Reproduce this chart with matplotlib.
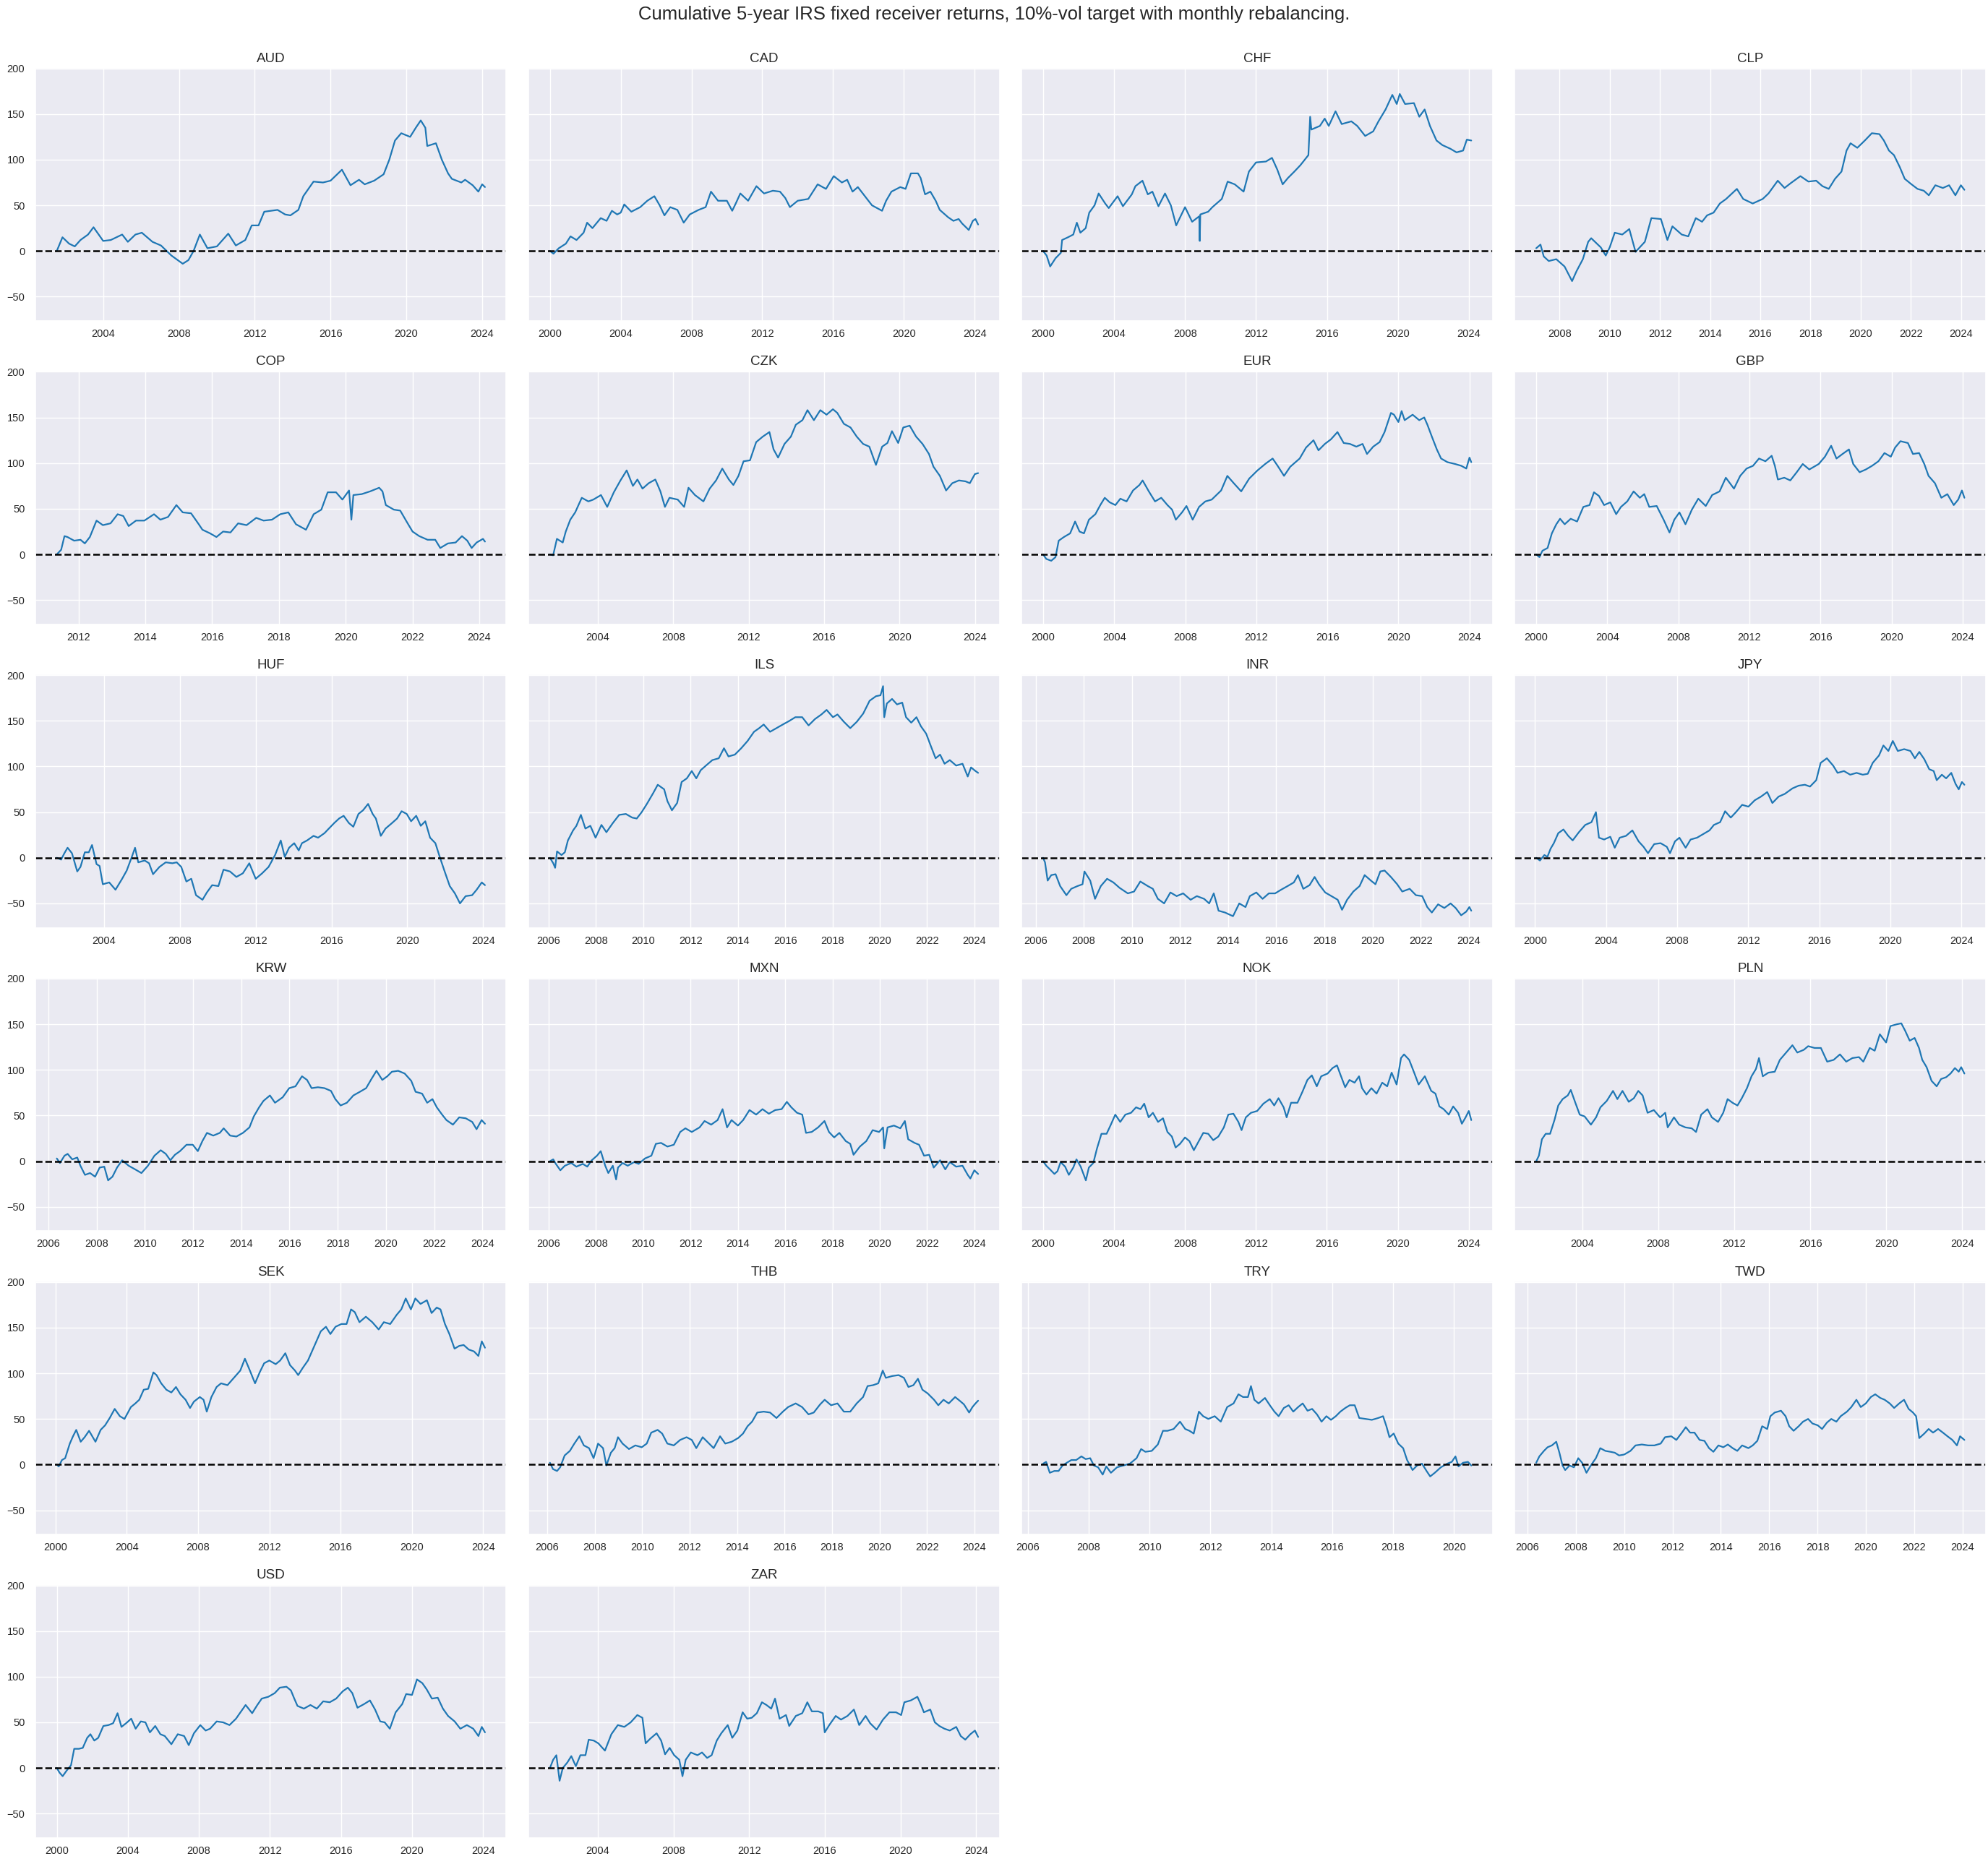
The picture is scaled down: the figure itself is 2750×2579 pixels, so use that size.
from datetime import datetime, timedelta

import matplotlib.pyplot as plt
import seaborn as sns

# cumulative returns, (decimal year, value) per currency
aud_years = [2001.55, 2001.85, 2002.2, 2002.5, 2002.8, 2003.2, 2003.49, 2004.0, 2004.4, 2005.0, 2005.3, 2005.7,
             2006.04, 2006.6, 2007.05, 2007.6, 2008.2, 2008.5, 2008.77, 2009.1, 2009.5, 2010.0, 2010.6, 2011.0,
             2011.5, 2011.84, 2012.2, 2012.5, 2013.2, 2013.6, 2013.88, 2014.3, 2014.56, 2015.1, 2015.6, 2016.0,
             2016.6, 2017.05, 2017.5, 2017.8, 2018.3, 2018.8, 2019.1, 2019.4, 2019.73, 2020.2, 2020.5, 2020.76,
             2021.0, 2021.1, 2021.56, 2021.87, 2022.2, 2022.4, 2022.9, 2023.1, 2023.5, 2023.8, 2024.0, 2024.15]
aud_vals = [0, 15, 8, 5, 12, 18, 26, 11, 12, 18, 10, 18, 20, 10, 6, -5, -14, -10, 0, 18, 3, 5, 19, 6, 12, 28, 28,
            43, 45, 40, 39, 45, 60, 76, 75, 77, 89, 72, 78, 73, 77, 84, 100, 121, 129, 125, 135, 143, 135, 115, 118,
            100, 85, 79, 75, 78, 72, 65, 73, 70]

cad_years = [2000.0, 2000.2, 2000.5, 2000.9, 2001.16, 2001.5, 2001.9, 2002.1, 2002.4, 2002.87, 2003.2, 2003.5,
             2003.8, 2004.0, 2004.2, 2004.6, 2005.1, 2005.5, 2005.9, 2006.2, 2006.47, 2006.8, 2007.2, 2007.56,
             2007.9, 2008.4, 2008.8, 2009.1, 2009.5, 2010.0, 2010.3, 2010.5, 2010.76, 2011.2, 2011.67, 2012.1,
             2012.6, 2013.0, 2013.3, 2013.56, 2014.0, 2014.6, 2015.13, 2015.6, 2016.04, 2016.5, 2016.8, 2017.1,
             2017.4, 2017.8, 2018.2, 2018.77, 2019.0, 2019.3, 2019.8, 2020.1, 2020.4, 2020.8, 2020.95, 2021.2,
             2021.5, 2021.8, 2022.03, 2022.5, 2022.8, 2023.1, 2023.3, 2023.67, 2023.9, 2024.05, 2024.2]
cad_vals = [0, -3, 3, 8, 16, 12, 20, 31, 25, 36, 33, 44, 40, 42, 51, 43, 48, 55, 60, 50, 39, 48, 45, 31, 40, 45,
            48, 65, 55, 55, 44, 52, 63, 55, 71, 63, 66, 65, 58, 48, 55, 57, 73, 68, 82, 75, 78, 65, 70, 60, 50, 44,
            55, 65, 70, 68, 85, 85, 80, 62, 65, 55, 45, 37, 33, 35, 30, 23, 33, 35, 29]

chf_years = [2000.0, 2000.2, 2000.4, 2000.7, 2001.0, 2001.07, 2001.4, 2001.7, 2001.9, 2002.1, 2002.4, 2002.6,
             2002.9, 2003.13, 2003.5, 2003.7, 2004.2, 2004.5, 2005.0, 2005.2, 2005.6, 2005.9, 2006.16, 2006.5,
             2006.87, 2007.2, 2007.5, 2008.0, 2008.4, 2008.8, 2008.83, 2008.86, 2009.3, 2009.54, 2010.07, 2010.4,
             2010.8, 2011.3, 2011.6, 2012.0, 2012.56, 2012.9, 2013.2, 2013.5, 2013.8, 2014.16, 2014.5, 2014.95,
             2015.05, 2015.12, 2015.6, 2015.87, 2016.1, 2016.48, 2016.83, 2017.37, 2017.7, 2018.15, 2018.6, 2018.9,
             2019.3, 2019.68, 2019.93, 2020.1, 2020.4, 2020.9, 2021.2, 2021.5, 2021.8, 2022.17, 2022.5, 2022.95,
             2023.3, 2023.67, 2023.88, 2024.13]
chf_vals = [0, -5, -17, -8, -2, 12, 15, 18, 31, 20, 25, 42, 50, 63, 52, 47, 60, 49, 62, 71, 77, 62, 65, 49, 63,
            50, 28, 48, 32, 38, 11, 40, 43, 48, 57, 76, 73, 65, 87, 97, 98, 102, 89, 73, 80, 87, 94, 105, 147, 133,
            137, 145, 137, 153, 139, 142, 137, 126, 131, 142, 155, 171, 161, 172, 161, 162, 147, 155, 137, 121, 116,
            112, 108, 110, 122, 121]

clp_years = [2007.07, 2007.24, 2007.37, 2007.57, 2007.87, 2008.2, 2008.5, 2008.68, 2008.93, 2009.14, 2009.26,
             2009.64, 2009.84, 2010.0, 2010.2, 2010.5, 2010.78, 2011.03, 2011.4, 2011.66, 2012.04, 2012.3, 2012.5,
             2012.87, 2013.13, 2013.43, 2013.68, 2013.88, 2014.14, 2014.39, 2014.64, 2015.07, 2015.32, 2015.7,
             2016.1, 2016.33, 2016.7, 2016.97, 2017.2, 2017.6, 2017.92, 2018.23, 2018.48, 2018.73, 2018.98,
             2019.24, 2019.44, 2019.6, 2019.87, 2020.17, 2020.45, 2020.75, 2020.93, 2021.13, 2021.33, 2021.56,
             2021.76, 2022.03, 2022.27, 2022.52, 2022.72, 2022.98, 2023.28, 2023.53, 2023.78, 2024.0, 2024.14]
clp_vals = [3, 7, -6, -11, -9, -17, -33, -22, -9, 10, 14, 4, -5, 4, 20, 18, 24, -1, 10, 36, 35, 12, 27, 18, 16,
            36, 32, 39, 42, 52, 57, 68, 57, 52, 57, 63, 77, 69, 74, 82, 76, 77, 71, 68, 79, 87, 110, 118, 113, 121,
            129, 128, 121, 110, 105, 92, 79, 73, 68, 66, 61, 72, 69, 72, 61, 72, 67]

cop_years = [2011.35, 2011.48, 2011.58, 2011.67, 2011.87, 2012.06, 2012.19, 2012.34, 2012.54, 2012.73, 2012.96,
             2013.17, 2013.34, 2013.5, 2013.72, 2013.97, 2014.26, 2014.45, 2014.68, 2014.93, 2015.12, 2015.37,
             2015.6, 2015.71, 2015.94, 2016.13, 2016.33, 2016.55, 2016.78, 2017.03, 2017.32, 2017.54, 2017.79,
             2018.04, 2018.28, 2018.51, 2018.81, 2019.04, 2019.27, 2019.46, 2019.71, 2019.9, 2020.1, 2020.17,
             2020.23, 2020.48, 2020.73, 2021.0, 2021.1, 2021.2, 2021.44, 2021.63, 2021.82, 2022.0, 2022.2, 2022.45,
             2022.68, 2022.83, 2023.06, 2023.29, 2023.48, 2023.64, 2023.77, 2023.92, 2024.11, 2024.17]
cop_vals = [0, 5, 20, 19, 15, 16, 12, 19, 37, 32, 34, 44, 42, 31, 37, 37, 44, 38, 41, 54, 46, 45, 33, 27, 23, 19,
            25, 24, 34, 32, 40, 37, 38, 44, 46, 33, 27, 44, 49, 68, 68, 60, 70, 38, 65, 66, 69, 73, 69, 54, 49, 48,
            36, 25, 20, 16, 16, 7, 12, 13, 20, 15, 7, 13, 17, 14]

czk_years = [2001.46, 2001.63, 2001.83, 2002.14, 2002.3, 2002.54, 2002.8, 2003.15, 2003.5, 2003.76, 2004.17,
             2004.5, 2004.85, 2005.2, 2005.53, 2005.86, 2006.1, 2006.37, 2006.7, 2007.05, 2007.32, 2007.56,
             2007.8, 2008.24, 2008.58, 2008.81, 2009.15, 2009.6, 2009.93, 2010.27, 2010.6, 2010.95, 2011.19,
             2011.46, 2011.73, 2012.07, 2012.4, 2012.75, 2013.1, 2013.32, 2013.56, 2013.9, 2014.24, 2014.5,
             2014.85, 2015.12, 2015.46, 2015.8, 2016.13, 2016.47, 2016.7, 2017.05, 2017.4, 2017.73, 2018.07,
             2018.4, 2018.75, 2019.08, 2019.36, 2019.6, 2019.93, 2020.2, 2020.54, 2020.88, 2021.22, 2021.56,
             2021.8, 2022.14, 2022.47, 2022.8, 2023.15, 2023.5, 2023.73, 2024.0, 2024.17]
czk_vals = [0, -1, 17, 13, 25, 38, 46, 62, 58, 60, 65, 52, 68, 81, 92, 75, 82, 72, 78, 82, 69, 52, 62, 60, 52, 73,
            65, 58, 72, 81, 94, 82, 76, 86, 102, 103, 123, 129, 134, 115, 106, 121, 129, 142, 147, 158, 147, 158,
            153, 159, 155, 143, 139, 129, 121, 118, 98, 118, 122, 135, 122, 139, 141, 129, 121, 110, 96, 86, 70,
            78, 81, 80, 78, 88, 89]

eur_years = [2000.0, 2000.18, 2000.46, 2000.7, 2000.88, 2001.17, 2001.52, 2001.8, 2002.05, 2002.3, 2002.58,
             2002.94, 2003.22, 2003.47, 2003.75, 2004.07, 2004.35, 2004.7, 2005.06, 2005.42, 2005.6, 2005.95,
             2006.3, 2006.65, 2007.0, 2007.26, 2007.47, 2007.82, 2008.07, 2008.42, 2008.78, 2009.13, 2009.49,
             2010.02, 2010.37, 2010.73, 2011.15, 2011.6, 2012.07, 2012.5, 2012.92, 2013.2, 2013.56, 2013.91,
             2014.44, 2014.8, 2015.22, 2015.5, 2015.86, 2016.2, 2016.57, 2016.92, 2017.27, 2017.63, 2017.98,
             2018.23, 2018.58, 2018.94, 2019.22, 2019.58, 2019.75, 2020.0, 2020.18, 2020.35, 2020.8, 2021.17,
             2021.45, 2021.63, 2021.88, 2022.16, 2022.4, 2022.76, 2023.19, 2023.54, 2023.82, 2024.0, 2024.1]
eur_vals = [0, -5, -7, -3, 15, 19, 23, 36, 25, 23, 38, 44, 54, 62, 57, 54, 61, 58, 70, 76, 81, 69, 58, 62, 54, 49,
            38, 46, 53, 38, 52, 58, 60, 70, 86, 78, 69, 83, 92, 99, 105, 97, 86, 96, 105, 117, 125, 114, 121, 126,
            134, 122, 121, 118, 121, 110, 118, 123, 134, 155, 153, 145, 157, 147, 153, 147, 150, 142, 129, 115, 105,
            101, 99, 97, 94, 106, 101]

gbp_years = [2000.0, 2000.18, 2000.35, 2000.64, 2000.88, 2001.13, 2001.34, 2001.6, 2001.94, 2002.3, 2002.65,
             2003.0, 2003.25, 2003.53, 2003.82, 2004.17, 2004.5, 2004.77, 2005.12, 2005.48, 2005.83, 2006.08,
             2006.36, 2006.78, 2007.17, 2007.5, 2007.77, 2008.06, 2008.4, 2008.76, 2009.12, 2009.54, 2009.9,
             2010.32, 2010.67, 2011.13, 2011.48, 2011.84, 2012.2, 2012.54, 2012.9, 2013.25, 2013.43, 2013.6,
             2013.96, 2014.3, 2014.66, 2015.0, 2015.37, 2015.9, 2016.25, 2016.6, 2016.9, 2017.24, 2017.6, 2017.84,
             2018.2, 2018.55, 2018.9, 2019.26, 2019.6, 2019.96, 2020.2, 2020.5, 2020.92, 2021.2, 2021.55, 2021.84,
             2022.08, 2022.44, 2022.8, 2023.14, 2023.5, 2023.75, 2023.96, 2024.1]
gbp_vals = [0, -3, 4, 7, 23, 33, 39, 33, 39, 36, 52, 54, 68, 64, 54, 57, 44, 52, 58, 69, 62, 66, 52, 53, 38, 24,
            38, 46, 33, 49, 61, 53, 65, 69, 84, 72, 86, 94, 97, 105, 102, 108, 97, 82, 84, 81, 90, 99, 93, 99, 107,
            119, 105, 110, 115, 99, 90, 93, 97, 102, 111, 107, 117, 124, 122, 110, 111, 99, 86, 78, 62, 66, 54, 60,
            70, 62]

huf_years = [2001.5, 2001.73, 2001.9, 2002.07, 2002.3, 2002.58, 2002.75, 2002.98, 2003.19, 2003.36, 2003.6,
             2003.76, 2003.93, 2004.27, 2004.6, 2004.95, 2005.19, 2005.46, 2005.63, 2005.8, 2006.14, 2006.37,
             2006.58, 2006.92, 2007.25, 2007.6, 2007.83, 2008.07, 2008.34, 2008.6, 2008.85, 2009.19, 2009.42,
             2009.7, 2010.03, 2010.3, 2010.64, 2010.98, 2011.32, 2011.66, 2012.0, 2012.34, 2012.68, 2013.02,
             2013.32, 2013.53, 2013.76, 2014.03, 2014.27, 2014.44, 2014.71, 2015.05, 2015.29, 2015.63, 2015.86,
             2016.14, 2016.4, 2016.64, 2016.92, 2017.15, 2017.42, 2017.66, 2017.93, 2018.17, 2018.34, 2018.6,
             2018.85, 2019.19, 2019.46, 2019.7, 2019.97, 2020.2, 2020.47, 2020.71, 2020.95, 2021.2, 2021.48,
             2021.71, 2021.97, 2022.24, 2022.51, 2022.78, 2023.08, 2023.42, 2023.66, 2023.93, 2024.1]
huf_vals = [0, -2, 5, 11, 5, -15, -10, 6, 6, 14, -7, -9, -29, -27, -35, -23, -14, 1, 11, -5, -3, -6, -18, -10, -5,
            -6, -5, -10, -26, -23, -41, -46, -38, -30, -31, -13, -15, -21, -17, -6, -23, -17, -10, 3, 19, 1, 11,
            16, 8, 16, 19, 24, 22, 27, 32, 38, 43, 46, 38, 34, 48, 52, 59, 48, 43, 24, 32, 38, 43, 51, 48, 40, 46,
            35, 40, 22, 16, 1, -15, -31, -39, -50, -42, -41, -35, -27, -30]

ils_years = [2006.05, 2006.19, 2006.27, 2006.35, 2006.54, 2006.68, 2006.81, 2007.03, 2007.17, 2007.36, 2007.55,
             2007.76, 2007.98, 2008.23, 2008.44, 2008.71, 2008.98, 2009.26, 2009.53, 2009.72, 2009.93, 2010.15,
             2010.42, 2010.61, 2010.88, 2011.02, 2011.21, 2011.43, 2011.62, 2011.84, 2012.05, 2012.24, 2012.43,
             2012.65, 2012.92, 2013.19, 2013.41, 2013.6, 2013.87, 2014.14, 2014.41, 2014.68, 2014.9, 2015.09,
             2015.36, 2015.63, 2015.9, 2016.18, 2016.43, 2016.72, 2016.99, 2017.26, 2017.53, 2017.75, 2018.02,
             2018.21, 2018.48, 2018.75, 2019.03, 2019.3, 2019.57, 2019.84, 2020.03, 2020.14, 2020.19, 2020.3,
             2020.52, 2020.73, 2020.95, 2021.11, 2021.33, 2021.55, 2021.74, 2021.96, 2022.15, 2022.36, 2022.55,
             2022.74, 2022.96, 2023.23, 2023.5, 2023.72, 2023.86, 2024.05, 2024.16]
ils_vals = [0, -6, -11, 7, 3, 6, 19, 30, 35, 47, 32, 35, 22, 36, 28, 38, 47, 48, 44, 43, 50, 59, 71, 80, 75, 62,
            52, 60, 83, 87, 95, 87, 96, 101, 107, 109, 120, 111, 113, 120, 128, 138, 142, 146, 138, 142, 146, 150,
            154, 154, 145, 152, 157, 162, 154, 157, 149, 142, 149, 158, 172, 177, 178, 188, 154, 169, 174, 168, 170,
            154, 148, 154, 144, 136, 123, 109, 113, 103, 107, 101, 103, 89, 99, 95, 93]

inr_years = [2006.31, 2006.39, 2006.5, 2006.65, 2006.83, 2007.02, 2007.28, 2007.48, 2007.74, 2007.95, 2008.03,
             2008.27, 2008.47, 2008.71, 2008.97, 2009.23, 2009.49, 2009.83, 2010.09, 2010.35, 2010.66, 2010.87,
             2011.08, 2011.34, 2011.6, 2011.86, 2012.13, 2012.44, 2012.7, 2013.0, 2013.21, 2013.4, 2013.6, 2013.87,
             2014.2, 2014.46, 2014.72, 2014.9, 2015.17, 2015.43, 2015.69, 2015.95, 2016.2, 2016.47, 2016.73, 2016.9,
             2017.12, 2017.38, 2017.59, 2017.77, 2018.03, 2018.29, 2018.55, 2018.73, 2018.94, 2019.2, 2019.46,
             2019.67, 2019.93, 2020.12, 2020.32, 2020.5, 2020.76, 2021.02, 2021.23, 2021.54, 2021.8, 2022.06,
             2022.27, 2022.46, 2022.72, 2022.98, 2023.24, 2023.45, 2023.68, 2023.89, 2024.02, 2024.1]
inr_vals = [0, -5, -25, -19, -18, -31, -41, -34, -31, -29, -15, -25, -45, -31, -23, -27, -33, -39, -37, -26, -31,
            -34, -45, -50, -38, -42, -39, -46, -42, -45, -50, -39, -58, -60, -64, -50, -54, -42, -38, -45, -39, -39,
            -35, -31, -27, -19, -34, -30, -21, -29, -38, -42, -46, -57, -46, -37, -31, -19, -25, -29, -15, -14, -21,
            -29, -37, -34, -41, -42, -54, -60, -51, -55, -50, -55, -63, -59, -54, -58]

jpy_years = [2000.07, 2000.28, 2000.53, 2000.7, 2000.88, 2001.06, 2001.31, 2001.6, 2001.87, 2002.12, 2002.47,
             2002.83, 2003.18, 2003.43, 2003.6, 2003.89, 2004.24, 2004.49, 2004.77, 2005.12, 2005.48, 2005.83,
             2006.11, 2006.36, 2006.71, 2007.07, 2007.42, 2007.6, 2007.88, 2008.13, 2008.48, 2008.76, 2009.12,
             2009.47, 2009.82, 2010.07, 2010.42, 2010.7, 2011.02, 2011.31, 2011.66, 2012.01, 2012.37, 2012.72,
             2013.07, 2013.36, 2013.71, 2014.06, 2014.49, 2014.84, 2015.19, 2015.48, 2015.83, 2016.08, 2016.43,
             2016.78, 2017.03, 2017.39, 2017.74, 2018.1, 2018.45, 2018.73, 2019.01, 2019.36, 2019.61, 2019.89,
             2020.14, 2020.42, 2020.78, 2021.13, 2021.38, 2021.63, 2021.91, 2022.19, 2022.44, 2022.61, 2022.9,
             2023.14, 2023.43, 2023.67, 2023.85, 2024.03, 2024.17]
jpy_vals = [0, -3, 3, 1, 10, 16, 27, 31, 24, 19, 28, 36, 39, 50, 22, 20, 23, 11, 22, 24, 30, 18, 12, 5, 15, 16, 12,
            5, 18, 22, 11, 20, 22, 26, 30, 36, 39, 51, 44, 50, 58, 56, 63, 67, 72, 60, 67, 70, 76, 79, 80, 78, 85,
            104, 109, 101, 93, 95, 91, 93, 91, 92, 104, 112, 123, 117, 128, 117, 119, 117, 109, 116, 108, 97, 95,
            85, 91, 87, 93, 81, 75, 83, 80]

krw_years = [2006.35, 2006.48, 2006.67, 2006.8, 2006.99, 2007.2, 2007.33, 2007.52, 2007.73, 2007.94, 2008.13,
             2008.32, 2008.48, 2008.66, 2008.85, 2009.06, 2009.33, 2009.6, 2009.86, 2010.13, 2010.4, 2010.66,
             2010.87, 2011.06, 2011.25, 2011.46, 2011.73, 2011.99, 2012.2, 2012.39, 2012.58, 2012.84, 2013.11,
             2013.27, 2013.54, 2013.8, 2014.07, 2014.34, 2014.52, 2014.74, 2014.92, 2015.19, 2015.4, 2015.72,
             2015.99, 2016.25, 2016.52, 2016.73, 2016.92, 2017.18, 2017.45, 2017.72, 2017.9, 2018.12, 2018.38,
             2018.65, 2018.92, 2019.18, 2019.4, 2019.61, 2019.85, 2020.06, 2020.25, 2020.51, 2020.78, 2021.05,
             2021.23, 2021.5, 2021.71, 2021.93, 2022.11, 2022.33, 2022.51, 2022.78, 2023.04, 2023.31, 2023.58,
             2023.76, 2023.97, 2024.11]
krw_vals = [3, -2, 6, 8, 2, 4, -5, -15, -13, -17, -7, -6, -21, -17, -7, 1, -5, -9, -13, -5, 6, 12, 8, 1, 7, 11,
            18, 18, 11, 22, 31, 28, 31, 36, 28, 27, 31, 37, 49, 59, 66, 72, 64, 70, 80, 82, 93, 89, 80, 81, 80, 77,
            68, 61, 64, 72, 76, 80, 90, 99, 89, 93, 98, 99, 96, 88, 76, 74, 64, 68, 59, 51, 45, 40, 48, 47, 43, 35,
            45, 41]

mxn_years = [2006.05, 2006.19, 2006.3, 2006.49, 2006.68, 2006.95, 2007.17, 2007.44, 2007.63, 2007.82, 2008.04,
             2008.2, 2008.39, 2008.52, 2008.71, 2008.85, 2008.93, 2009.12, 2009.34, 2009.61, 2009.8, 2010.07,
             2010.34, 2010.53, 2010.75, 2011.02, 2011.29, 2011.56, 2011.78, 2012.05, 2012.38, 2012.59, 2012.87,
             2013.14, 2013.35, 2013.54, 2013.73, 2014.0, 2014.22, 2014.49, 2014.77, 2015.04, 2015.31, 2015.58,
             2015.85, 2016.07, 2016.26, 2016.5, 2016.72, 2016.88, 2017.12, 2017.39, 2017.66, 2017.85, 2018.07,
             2018.29, 2018.56, 2018.75, 2018.89, 2019.16, 2019.43, 2019.7, 2019.97, 2020.14, 2020.19, 2020.33,
             2020.6, 2020.87, 2021.06, 2021.2, 2021.47, 2021.66, 2021.87, 2022.09, 2022.28, 2022.55, 2022.77,
             2022.96, 2023.23, 2023.5, 2023.72, 2023.83, 2024.0, 2024.16]
mxn_vals = [0, 2, -3, -10, -5, -2, -6, -3, -6, 1, 6, 11, -5, -13, -5, -20, -7, -2, -5, -1, -3, 3, 6, 19, 20, 16,
            18, 32, 36, 32, 37, 44, 40, 45, 57, 37, 45, 39, 45, 56, 51, 57, 52, 56, 57, 65, 59, 53, 51, 31, 32, 37,
            44, 32, 26, 31, 22, 19, 7, 16, 22, 34, 32, 37, 14, 37, 39, 36, 44, 24, 20, 18, 6, 7, -7, 1, -9, -1, -6,
            -5, -15, -19, -10, -14]

nok_years = [2000.0, 2000.18, 2000.39, 2000.64, 2000.81, 2000.99, 2001.24, 2001.45, 2001.7, 2001.88, 2002.12,
             2002.41, 2002.58, 2002.83, 2003.04, 2003.29, 2003.58, 2003.82, 2004.07, 2004.35, 2004.64, 2004.96,
             2005.24, 2005.49, 2005.7, 2005.95, 2006.19, 2006.48, 2006.76, 2007.01, 2007.26, 2007.47, 2007.72,
             2008.0, 2008.25, 2008.5, 2008.78, 2009.03, 2009.31, 2009.59, 2009.88, 2010.19, 2010.44, 2010.73,
             2011.01, 2011.19, 2011.43, 2011.72, 2012.07, 2012.42, 2012.78, 2013.03, 2013.27, 2013.56, 2013.73,
             2013.98, 2014.34, 2014.62, 2014.9, 2015.15, 2015.43, 2015.68, 2016.04, 2016.32, 2016.57, 2016.74,
             2017.03, 2017.27, 2017.56, 2017.81, 2017.98, 2018.23, 2018.51, 2018.8, 2019.12, 2019.4, 2019.65,
             2019.93, 2020.18, 2020.35, 2020.64, 2020.92, 2021.17, 2021.52, 2021.88, 2022.12, 2022.34, 2022.58,
             2022.87, 2023.12, 2023.4, 2023.61, 2023.82, 2024.0, 2024.14]
nok_vals = [0, -5, -9, -14, -11, -1, -6, -15, -7, 2, -6, -21, -7, -2, 14, 30, 30, 40, 51, 43, 51, 53, 59, 57, 63,
            48, 53, 43, 47, 32, 27, 15, 19, 26, 22, 12, 22, 31, 30, 23, 27, 37, 51, 52, 43, 34, 48, 53, 55, 63, 68,
            61, 69, 59, 48, 64, 64, 76, 89, 94, 82, 93, 96, 102, 105, 96, 81, 89, 86, 93, 80, 73, 80, 74, 86, 82,
            97, 84, 113, 117, 111, 97, 84, 93, 77, 74, 60, 57, 51, 60, 53, 41, 48, 55, 45]

pln_years = [2001.58, 2001.72, 2001.88, 2002.08, 2002.31, 2002.54, 2002.74, 2002.97, 2003.24, 2003.4, 2003.64,
             2003.87, 2004.13, 2004.46, 2004.73, 2004.96, 2005.29, 2005.62, 2005.85, 2006.12, 2006.45, 2006.72,
             2006.95, 2007.18, 2007.44, 2007.77, 2008.1, 2008.37, 2008.5, 2008.83, 2009.1, 2009.43, 2009.76,
             2009.99, 2010.26, 2010.59, 2010.82, 2011.15, 2011.42, 2011.65, 2011.91, 2012.17, 2012.4, 2012.67,
             2012.91, 2013.14, 2013.3, 2013.5, 2013.8, 2014.13, 2014.4, 2014.73, 2015.06, 2015.32, 2015.66, 2015.89,
             2016.23, 2016.56, 2016.89, 2017.23, 2017.56, 2017.89, 2018.22, 2018.56, 2018.79, 2019.13, 2019.39,
             2019.66, 2019.99, 2020.22, 2020.56, 2020.79, 2020.99, 2021.23, 2021.49, 2021.72, 2021.89, 2022.12,
             2022.38, 2022.65, 2022.88, 2023.15, 2023.38, 2023.61, 2023.81, 2023.94, 2024.11]
pln_vals = [0, 6, 24, 30, 30, 45, 61, 68, 72, 78, 64, 51, 49, 40, 48, 59, 66, 77, 68, 77, 65, 69, 77, 72, 53, 56,
            48, 53, 37, 48, 40, 37, 36, 32, 51, 57, 48, 43, 53, 68, 64, 61, 69, 80, 93, 101, 113, 93, 97, 98, 111,
            119, 127, 119, 122, 126, 124, 124, 109, 111, 117, 109, 113, 114, 109, 124, 121, 139, 130, 148, 150, 151,
            143, 132, 135, 124, 111, 103, 88, 82, 90, 92, 96, 102, 98, 103, 96]

sek_years = [2000.07, 2000.18, 2000.36, 2000.54, 2000.8, 2000.98, 2001.16, 2001.41, 2001.63, 2001.88, 2002.24,
             2002.53, 2002.78, 2003.04, 2003.32, 2003.61, 2003.87, 2004.23, 2004.48, 2004.7, 2004.95, 2005.2,
             2005.49, 2005.67, 2005.93, 2006.22, 2006.5, 2006.76, 2007.01, 2007.3, 2007.55, 2007.77, 2008.1,
             2008.31, 2008.49, 2008.75, 2009.04, 2009.29, 2009.65, 2010.01, 2010.37, 2010.63, 2010.91, 2011.2,
             2011.46, 2011.71, 2012.0, 2012.36, 2012.61, 2012.9, 2013.16, 2013.44, 2013.62, 2013.88, 2014.17,
             2014.53, 2014.89, 2015.18, 2015.43, 2015.72, 2016.05, 2016.34, 2016.59, 2016.8, 2017.06, 2017.42,
             2017.78, 2018.14, 2018.43, 2018.79, 2019.15, 2019.41, 2019.66, 2019.95, 2020.2, 2020.49, 2020.85,
             2021.11, 2021.4, 2021.61, 2021.86, 2022.11, 2022.4, 2022.66, 2022.91, 2023.2, 2023.49, 2023.74,
             2023.93, 2024.11]
sek_vals = [0, -2, 5, 7, 23, 31, 38, 25, 30, 37, 25, 38, 43, 51, 61, 53, 50, 63, 67, 71, 82, 83, 101, 98, 89, 82,
            79, 85, 77, 71, 62, 69, 74, 71, 58, 74, 85, 89, 87, 95, 103, 116, 103, 89, 101, 111, 114, 110, 114, 122,
            109, 103, 98, 106, 114, 130, 146, 151, 143, 151, 154, 154, 170, 167, 156, 162, 156, 148, 156, 154, 164,
            170, 182, 170, 182, 176, 180, 166, 172, 170, 154, 143, 127, 130, 131, 126, 124, 119, 135, 128]

thb_years = [2006.11, 2006.24, 2006.41, 2006.54, 2006.73, 2006.95, 2007.14, 2007.35, 2007.54, 2007.76, 2007.95,
             2008.14, 2008.35, 2008.49, 2008.68, 2008.84, 2008.98, 2009.17, 2009.44, 2009.71, 2009.98, 2010.19,
             2010.38, 2010.65, 2010.84, 2011.06, 2011.33, 2011.6, 2011.87, 2012.09, 2012.28, 2012.55, 2012.82,
             2013.01, 2013.28, 2013.5, 2013.77, 2014.04, 2014.25, 2014.44, 2014.63, 2014.85, 2015.12, 2015.39,
             2015.66, 2015.93, 2016.15, 2016.47, 2016.74, 2017.01, 2017.23, 2017.5, 2017.69, 2017.96, 2018.23,
             2018.5, 2018.77, 2019.04, 2019.31, 2019.5, 2019.73, 2019.95, 2020.14, 2020.27, 2020.54, 2020.81,
             2021.03, 2021.22, 2021.43, 2021.62, 2021.81, 2022.03, 2022.3, 2022.48, 2022.7, 2022.92, 2023.19,
             2023.38, 2023.56, 2023.78, 2023.92, 2024.05, 2024.16]
thb_vals = [2, -5, -7, -3, 10, 15, 23, 31, 21, 18, 7, 23, 18, -1, 13, 18, 30, 23, 17, 21, 19, 23, 35, 38, 34, 23,
            21, 27, 30, 27, 18, 30, 23, 18, 31, 23, 25, 29, 34, 42, 47, 57, 58, 57, 51, 58, 63, 67, 63, 55, 57, 66,
            71, 65, 67, 58, 58, 67, 74, 86, 87, 89, 103, 95, 97, 98, 95, 85, 87, 94, 82, 78, 71, 65, 71, 67, 74,
            70, 66, 57, 63, 67, 70]

try_years = [2006.5, 2006.6, 2006.72, 2006.87, 2007.01, 2007.14, 2007.28, 2007.43, 2007.59, 2007.76, 2007.9,
             2008.05, 2008.17, 2008.31, 2008.46, 2008.58, 2008.73, 2008.93, 2009.14, 2009.35, 2009.57, 2009.72,
             2009.86, 2010.07, 2010.27, 2010.44, 2010.59, 2010.79, 2011.0, 2011.17, 2011.31, 2011.45, 2011.62,
             2011.76, 2011.93, 2012.14, 2012.34, 2012.55, 2012.76, 2012.92, 2013.07, 2013.23, 2013.33, 2013.44,
             2013.58, 2013.79, 2013.95, 2014.1, 2014.24, 2014.41, 2014.57, 2014.72, 2014.88, 2015.03, 2015.19,
             2015.34, 2015.5, 2015.65, 2015.81, 2015.96, 2016.12, 2016.27, 2016.43, 2016.58, 2016.74, 2016.89,
             2017.1, 2017.3, 2017.51, 2017.67, 2017.78, 2017.88, 2018.02, 2018.17, 2018.33, 2018.46, 2018.64,
             2018.79, 2018.95, 2019.1, 2019.22, 2019.37, 2019.57, 2019.78, 2019.93, 2020.05, 2020.15, 2020.3,
             2020.46, 2020.57]
try_vals = [1, 3, -9, -7, -7, -1, 2, 5, 5, 9, 6, 7, -1, -3, -11, -2, -9, -3, -1, 1, 7, 17, 14, 15, 22, 37, 37, 39,
            47, 39, 37, 34, 58, 53, 50, 53, 47, 63, 67, 77, 74, 74, 86, 71, 67, 73, 65, 58, 53, 62, 65, 58, 63, 67,
            59, 61, 55, 47, 53, 49, 53, 58, 62, 65, 65, 51, 50, 49, 51, 53, 42, 30, 34, 23, 18, 5, -6, -1, 1, -7,
            -13, -9, -3, 1, 3, 9, -2, 2, 3, -1]

twd_years = [2006.36, 2006.49, 2006.68, 2006.83, 2007.01, 2007.19, 2007.32, 2007.45, 2007.56, 2007.74, 2007.92,
             2008.1, 2008.26, 2008.44, 2008.62, 2008.83, 2009.01, 2009.22, 2009.43, 2009.61, 2009.79, 2010.0,
             2010.26, 2010.47, 2010.73, 2010.99, 2011.25, 2011.51, 2011.69, 2011.95, 2012.16, 2012.39, 2012.55,
             2012.73, 2012.91, 2013.12, 2013.32, 2013.51, 2013.69, 2013.9, 2014.1, 2014.29, 2014.49, 2014.68,
             2014.88, 2015.14, 2015.32, 2015.51, 2015.71, 2015.92, 2016.05, 2016.23, 2016.49, 2016.68, 2016.83,
             2017.01, 2017.22, 2017.4, 2017.61, 2017.79, 2018.01, 2018.19, 2018.39, 2018.57, 2018.78, 2018.96,
             2019.22, 2019.4, 2019.61, 2019.79, 2020.0, 2020.21, 2020.39, 2020.6, 2020.78, 2020.99, 2021.17,
             2021.38, 2021.58, 2021.77, 2021.95, 2022.08, 2022.21, 2022.42, 2022.6, 2022.78, 2022.99, 2023.19,
             2023.38, 2023.58, 2023.77, 2023.9, 2024.08]
twd_vals = [2, 9, 15, 19, 21, 25, 13, -1, -6, -1, -3, 7, 2, -9, -1, 7, 18, 15, 14, 13, 10, 11, 15, 21, 22, 21,
            21, 23, 30, 31, 27, 35, 41, 35, 35, 27, 26, 18, 14, 21, 19, 22, 18, 15, 21, 18, 21, 26, 42, 39, 53, 57,
            59, 53, 42, 37, 42, 47, 50, 45, 43, 39, 46, 50, 47, 53, 58, 63, 71, 63, 67, 74, 77, 73, 71, 67, 62, 67,
            71, 61, 57, 53, 29, 34, 39, 35, 39, 35, 31, 27, 21, 31, 27]

usd_years = [2000.0, 2000.15, 2000.33, 2000.55, 2000.8, 2000.98, 2001.24, 2001.46, 2001.71, 2001.89, 2002.11,
             2002.33, 2002.62, 2002.91, 2003.17, 2003.42, 2003.64, 2003.9, 2004.19, 2004.44, 2004.73, 2004.99,
             2005.24, 2005.54, 2005.83, 2006.08, 2006.45, 2006.81, 2007.17, 2007.43, 2007.72, 2008.08, 2008.38,
             2008.63, 2009.0, 2009.36, 2009.72, 2010.09, 2010.34, 2010.63, 2011.0, 2011.29, 2011.54, 2011.91,
             2012.27, 2012.56, 2012.93, 2013.18, 2013.37, 2013.55, 2013.91, 2014.28, 2014.64, 2015.0, 2015.37,
             2015.73, 2016.1, 2016.39, 2016.64, 2016.93, 2017.3, 2017.63, 2017.92, 2018.21, 2018.46, 2018.75,
             2019.08, 2019.45, 2019.67, 2020.0, 2020.28, 2020.58, 2020.83, 2021.12, 2021.45, 2021.74, 2022.03,
             2022.4, 2022.72, 2023.09, 2023.45, 2023.74, 2023.93, 2024.11]
usd_vals = [0, -5, -9, -3, 3, 21, 21, 22, 33, 37, 30, 33, 46, 47, 49, 60, 45, 49, 54, 43, 51, 50, 39, 46, 37, 35,
            26, 37, 35, 25, 38, 47, 41, 43, 51, 50, 47, 54, 61, 69, 60, 69, 76, 78, 82, 88, 89, 85, 76, 68, 65, 69,
            65, 73, 72, 76, 84, 88, 82, 66, 70, 74, 64, 51, 50, 43, 61, 70, 81, 80, 97, 93, 86, 76, 77, 65, 57, 51,
            43, 47, 43, 35, 45, 39]

zar_years = [2001.47, 2001.64, 2001.81, 2001.98, 2002.15, 2002.39, 2002.6, 2002.84, 2003.08, 2003.35, 2003.52,
             2003.79, 2004.03, 2004.38, 2004.72, 2005.06, 2005.4, 2005.74, 2006.09, 2006.36, 2006.53, 2006.77,
             2007.11, 2007.35, 2007.56, 2007.8, 2008.04, 2008.31, 2008.48, 2008.65, 2008.92, 2009.27, 2009.51,
             2009.78, 2010.02, 2010.29, 2010.53, 2010.87, 2011.11, 2011.38, 2011.66, 2011.9, 2012.14, 2012.41,
             2012.68, 2012.92, 2013.17, 2013.37, 2013.61, 2013.95, 2014.12, 2014.47, 2014.81, 2015.08, 2015.32,
             2015.66, 2015.9, 2016.0, 2016.24, 2016.58, 2016.86, 2017.2, 2017.54, 2017.82, 2018.16, 2018.4,
             2018.74, 2019.08, 2019.42, 2019.77, 2020.04, 2020.21, 2020.55, 2020.9, 2021.07, 2021.24, 2021.58,
             2021.82, 2022.06, 2022.33, 2022.61, 2022.95, 2023.19, 2023.43, 2023.7, 2023.94, 2024.11]
zar_vals = [0, 9, 14, -14, 0, 6, 13, 2, 14, 14, 31, 30, 27, 19, 37, 47, 45, 50, 58, 55, 27, 32, 38, 30, 15, 22,
            14, 9, -9, 9, 17, 14, 17, 11, 14, 30, 38, 47, 33, 41, 61, 54, 55, 60, 72, 69, 65, 76, 54, 58, 46, 57,
            60, 72, 62, 62, 60, 39, 47, 57, 53, 57, 64, 47, 57, 49, 42, 53, 61, 61, 58, 72, 74, 78, 70, 61, 64, 50,
            46, 43, 41, 45, 35, 31, 37, 41, 34]

currencies = ["AUD", "CAD", "CHF", "CLP", "COP", "CZK", "EUR", "GBP", "HUF", "ILS", "INR", "JPY",
              "KRW", "MXN", "NOK", "PLN", "SEK", "THB", "TRY", "TWD", "USD", "ZAR"]
series = {
    "AUD": (aud_years, aud_vals), "CAD": (cad_years, cad_vals), "CHF": (chf_years, chf_vals),
    "CLP": (clp_years, clp_vals), "COP": (cop_years, cop_vals), "CZK": (czk_years, czk_vals),
    "EUR": (eur_years, eur_vals), "GBP": (gbp_years, gbp_vals), "HUF": (huf_years, huf_vals),
    "ILS": (ils_years, ils_vals), "INR": (inr_years, inr_vals), "JPY": (jpy_years, jpy_vals),
    "KRW": (krw_years, krw_vals), "MXN": (mxn_years, mxn_vals), "NOK": (nok_years, nok_vals),
    "PLN": (pln_years, pln_vals), "SEK": (sek_years, sek_vals), "THB": (thb_years, thb_vals),
    "TRY": (try_years, try_vals), "TWD": (twd_years, twd_vals), "USD": (usd_years, usd_vals),
    "ZAR": (zar_years, zar_vals),
}
title = "Cumulative 5-year IRS fixed receiver returns, 10%-vol target with monthly rebalancing."


def to_dates(years):
    out = []
    for y in years:
        base = datetime(int(y), 1, 1)
        out.append(base + timedelta(days=(y - int(y)) * 365.25))
    return out


sns.set_theme(style="darkgrid")
plt.rcParams["font.family"] = ["Liberation Sans", "DejaVu Sans"]

fig, axes = plt.subplots(6, 4, figsize=(27.5, 25.79), dpi=100, sharey=True)
fig.subplots_adjust(left=0.0178, right=0.9989, top=0.9636, bottom=0.0140, wspace=0.047, hspace=0.199)

for ax, cid in zip(axes.flat, currencies):
    years, vals = series[cid]
    ax.plot(to_dates(years), vals, color="#1f77b4", lw=1.6)
    ax.axhline(0, color="black", ls="--", lw=1.8)
    ax.set_title(cid, fontsize=13.5, pad=6)
    ax.tick_params(axis="both", labelsize=10.5, length=0)
    ax.tick_params(axis="x", pad=8)
    ax.tick_params(axis="y", pad=10.5)
    ax.set_xlabel("")

for ax in axes.flat[len(currencies):]:
    fig.delaxes(ax)

fig.suptitle(title, fontsize=18.5, y=0.997)
fig.savefig("out.png", dpi=100)
plt.close(fig)
